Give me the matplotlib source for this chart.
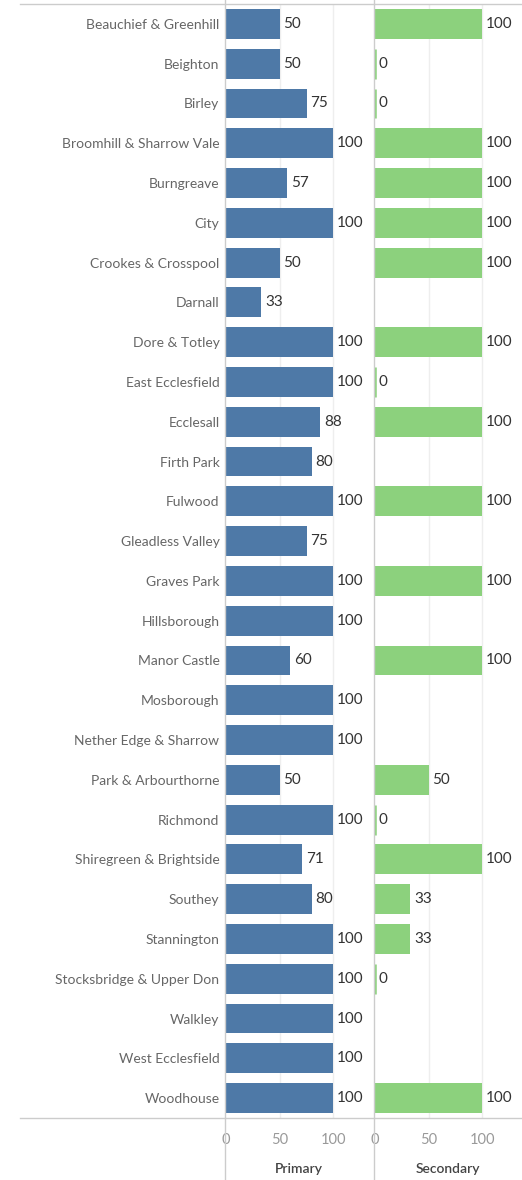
import matplotlib.pyplot as plt
import numpy as np
from matplotlib.lines import Line2D

wards = ["Beauchief & Greenhill", "Beighton", "Birley", "Broomhill & Sharrow Vale",
         "Burngreave", "City", "Crookes & Crosspool", "Darnall", "Dore & Totley",
         "East Ecclesfield", "Ecclesall", "Firth Park", "Fulwood", "Gleadless Valley",
         "Graves Park", "Hillsborough", "Manor Castle", "Mosborough",
         "Nether Edge & Sharrow", "Park & Arbourthorne", "Richmond",
         "Shiregreen & Brightside", "Southey", "Stannington",
         "Stocksbridge & Upper Don", "Walkley", "West Ecclesfield", "Woodhouse"]
primary = [50, 50, 75, 100, 57, 100, 50, 33, 100, 100, 88, 80, 100, 75,
           100, 100, 60, 100, 100, 50, 100, 71, 80, 100, 100, 100, 100, 100]
secondary = [100, 0, 0, 100, 100, 100, 100, None, 100, 0, 100, None, 100, None,
             100, None, 100, None, None, 50, 0, 100, 33, 33, 0, None, None, 100]
ticks = [0, 50, 100]

blue = "#4e79a7"
green = "#8cd17d"

plt.rcParams['font.family'] = ['Lato', 'DejaVu Sans']

fig = plt.figure(figsize=(5.22, 11.8), dpi=100)
W, H = 522, 1180
bottom = 1 - 1118 / H
height = (1118 - 4) / H
ax1 = fig.add_axes([225 / W, bottom, 148 / W, height])
ax2 = fig.add_axes([374 / W, bottom, 148 / W, height])

y = np.arange(len(wards))

def draw(ax, vals, color, title):
    for i, v in enumerate(vals):
        if v is None:
            continue
        ax.barh(i, v, height=0.75, color=color, edgecolor=color,
                linewidth=1.8 if v == 0 else 0)
        ax.text(v + 3.5, i, str(v), va='center', ha='left',
                fontsize=11, color='#333333')
    ax.set_xlim(-1, 137)
    ax.set_ylim(len(wards) - 0.5, -0.5)
    ax.set_xticks(ticks)
    ax.set_xticklabels([str(t) for t in ticks], color='#999999', fontsize=10.5)
    ax.tick_params(axis='x', length=0, pad=11)
    ax.tick_params(axis='y', length=0)
    for g in ticks[1:]:
        ax.axvline(g, color='#eeeeee', linewidth=1, zorder=0)
    for s in ax.spines.values():
        s.set_visible(False)
    ax.set_xlabel(title, fontsize=10, color='#444444', fontweight='semibold',
                  labelpad=11)

draw(ax1, primary, blue, "Primary")
draw(ax2, secondary, green, "Secondary")

ax1.set_yticks(y)
ax1.set_yticklabels(wards, fontsize=10, color='#666666')
ax1.tick_params(axis='y', pad=4)
ax2.set_yticks([])

# frame lines
for yy in (4, 1118):
    fig.add_artist(Line2D([20 / W, 1], [1 - yy / H, 1 - yy / H],
                          color='#cccccc', linewidth=1))
for xx in (225, 374):
    fig.add_artist(Line2D([xx / W, xx / W], [0, 1], color='#cccccc',
                          linewidth=1))

fig.savefig("out.png", dpi=100)
